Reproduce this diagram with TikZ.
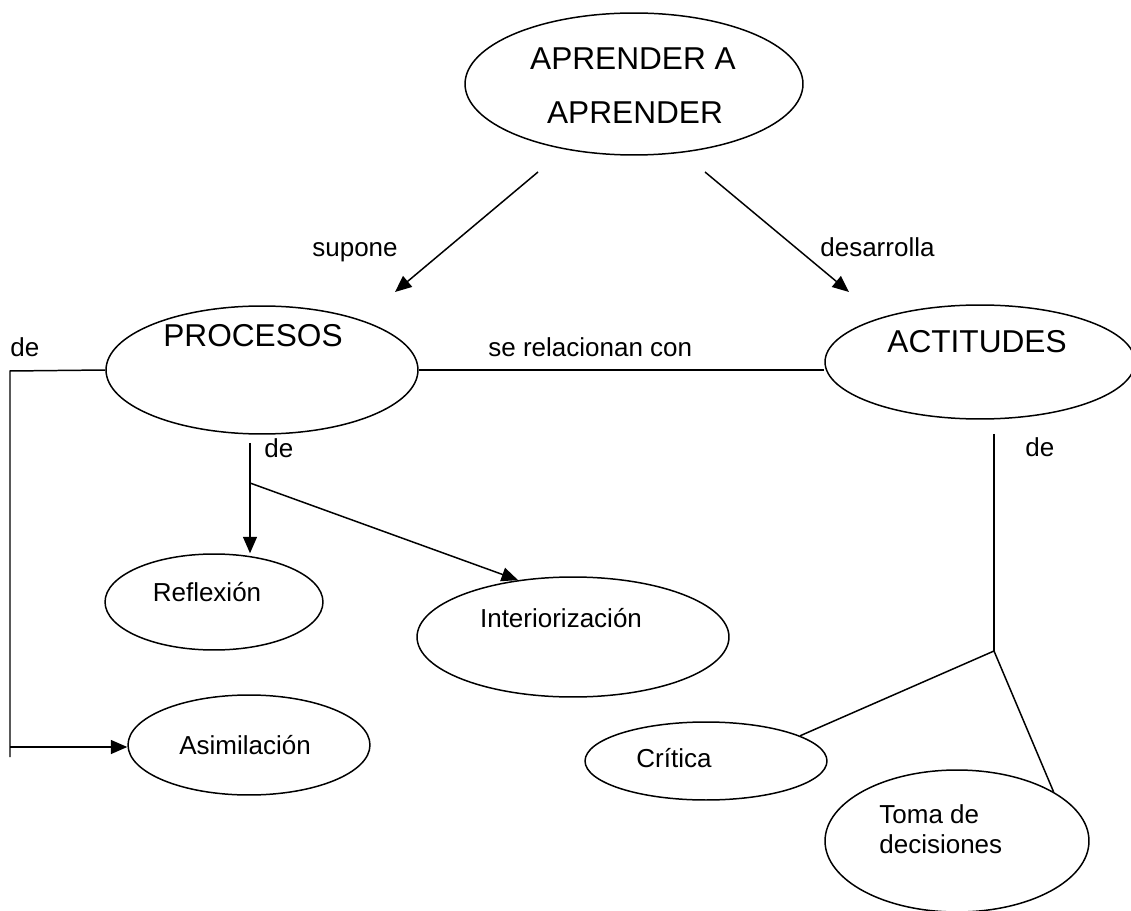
\documentclass[tikz,border=0pt]{standalone}
\usepackage{fontspec}
\setmainfont{Liberation Sans}
\usetikzlibrary{shapes.geometric,arrows.meta}

\tikzset{
  oval/.style={draw, ellipse, inner sep=0pt, line width=0.85pt},
  bigtxt/.style={font=\fontsize{18}{22}\selectfont, inner sep=0pt, anchor=base},
  smalltxt/.style={font=\fontsize{14.8}{17}\selectfont, inner sep=0pt, anchor=base},
  link/.style={line width=0.85pt}
}

\begin{document}
\begin{tikzpicture}[x=0.02cm, y=-0.02cm, >={Triangle[length=3.3mm,width=2.8mm]}]

    % page size
    \useasboundingbox (0,0) rectangle (1131,911);

    % main concept at the top
    \node[oval, minimum width=6.76cm, minimum height=2.84cm] (aprender) at (634,84) {};
    \node[bigtxt] (aprendera) at (633,70) {APRENDER A};
    \node[bigtxt] (aprenderb) at (635,124) {APRENDER};

    % second level
    \node[oval, minimum width=6.24cm, minimum height=2.56cm] (procesos) at (262,370) {};
    \node[bigtxt] (procesostxt) at (253,347) {PROCESOS};
    \node[oval, minimum width=6.2cm, minimum height=2.28cm] (actitudes) at (980,362) {};
    \node[bigtxt] (actitudestxt) at (977,353) {ACTITUDES};

    % kinds of processes
    \node[oval, minimum width=4.36cm, minimum height=1.92cm] (reflexion) at (214,602) {};
    \node[smalltxt] (reflexiontxt) at (207,601) {Reflexión};
    \node[oval, minimum width=6.24cm, minimum height=2.4cm] (interior) at (573,637) {};
    \node[smalltxt] (interiortxt) at (561,627) {Interiorización};
    \node[oval, minimum width=4.84cm, minimum height=2cm] (asimila) at (249,745) {};
    \node[smalltxt] (asimilatxt) at (245,754) {Asimilación};

    % kinds of attitudes
    \node[oval, minimum width=4.84cm, minimum height=1.56cm] (critica) at (706,761) {};
    \node[smalltxt] (criticatxt) at (674,767) {Crítica};
    \node[oval, minimum width=5.28cm, minimum height=2.84cm] (toma) at (957,841) {};
    \node[smalltxt, anchor=base west] (tomaa) at (879,823) {Toma de};
    \node[smalltxt, anchor=base west] (tomab) at (879,853) {decisiones};

    % arrows from the top
    \coordinate (supA) at (538,172);
    \coordinate (supB) at (395,292);
    \coordinate (desA) at (705,172);
    \coordinate (desB) at (849,292);
    \draw[link,->] (supA) -- (supB);
    \draw[link,->] (desA) -- (desB);
    \node[smalltxt, anchor=base east] (supone) at (398,257) {supone};
    \node[smalltxt, anchor=base west] (desarrolla) at (820,257) {desarrolla};

    % link between the two
    \draw[link] (procesos.east) -- (procesos.east -| actitudes.west);
    \node[smalltxt, anchor=base west] (relacion) at (488,357) {se relacionan con};

    % left branch to Asimilacion
    \coordinate (lTop) at (10,371);
    \coordinate (lBot) at (10,757);
    \coordinate (lMid) at (10,747);
    \draw[link] (procesos.west) -- (lTop) -- (lBot);
    \draw[link,->] (lMid) -- (lMid -| asimila.west);
    \node[smalltxt, anchor=base west] (deleft) at (10,357) {de};

    % branch below PROCESOS
    \coordinate (pTop) at (250,443);
    \coordinate (pJoin) at (250,483);
    \draw[link] (pTop) -- (pJoin);
    \draw[link,->] (pJoin) -- (pJoin |- reflexion.north);
    \draw[link,->] (pJoin) -- (interior.134);
    \node[smalltxt, anchor=base west] (demid) at (264,458) {de};

    % branch below ACTITUDES
    \coordinate (aTop) at (994,434);
    \coordinate (aJoin) at (994,651);
    \draw[link] (aTop) -- (aJoin);
    \draw[link] (aJoin) -- (critica.15);
    \draw[link] (aJoin) -- (toma.27);
    \node[smalltxt, anchor=base west] (deright) at (1025,457) {de};

\end{tikzpicture}
\end{document}
